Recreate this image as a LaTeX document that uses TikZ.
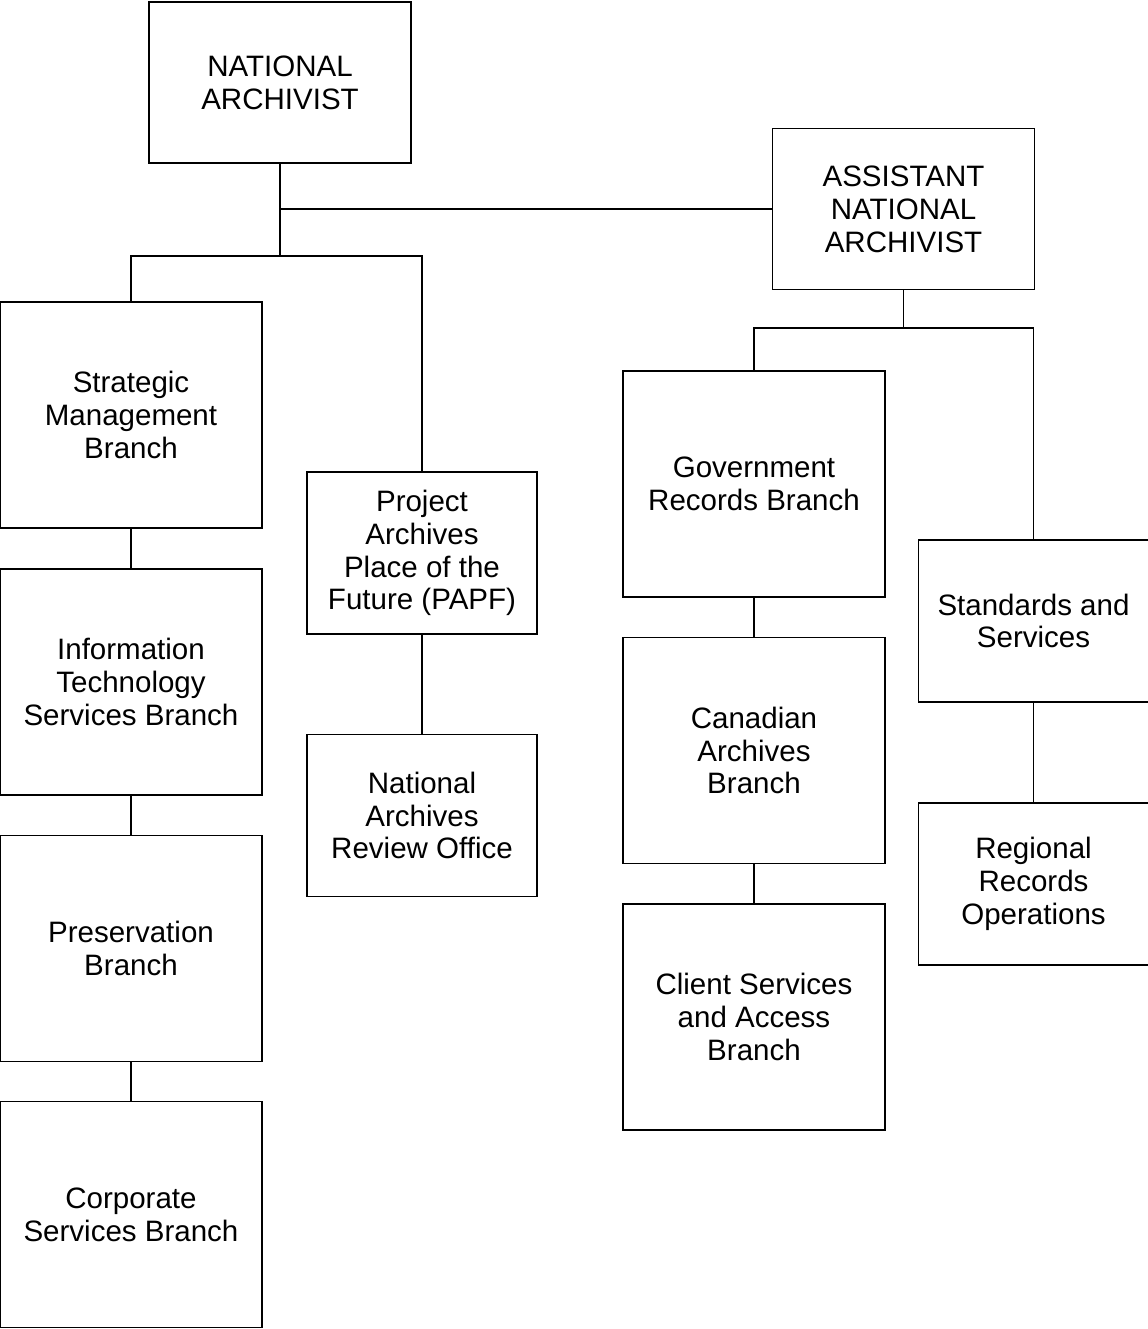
\documentclass[tikz,border=0pt]{standalone}
\usepackage{fontspec}
\setmainfont{Liberation Sans}
\begin{document}
\begin{tikzpicture}
    [
      x = 0.02cm, y = -0.02cm,
      unit/.style = {draw, line width = 1pt, align = center, inner sep = 0pt,
                     font = \fontsize{16.8}{18.7}\selectfont},
      head/.style = {unit, minimum width = 5.24cm, minimum height = 3.22cm},
      big/.style = {unit, minimum width = 5.24cm, minimum height = 4.52cm},
      small/.style = {unit, minimum width = 4.6cm, minimum height = 3.24cm},
      link/.style = {line width = 1pt},
    ]

    \useasboundingbox (0,0) rectangle (1148,1329);

    \node[head] (na) at (280,82.5) {NATIONAL\\ARCHIVIST};
    \node[head] (ana) at (903.5,209) {ASSISTANT\\NATIONAL\\ARCHIVIST};

    \node[big] (smb) at (131,415) {Strategic\\Management\\Branch};
    \node[big] (its) at (131,682) {Information\\Technology\\Services Branch};
    \node[big] (pb) at (131,948.5) {Preservation\\Branch};
    \node[big] (csb) at (131,1214.5) {Corporate\\Services Branch};

    \node[small] (papf) at (422,553) {Project\\Archives\\Place of the\\Future (PAPF)};
    \node[small] (naro) at (422,815.5) {National\\Archives\\Review Office};

    \node[big] (grb) at (754,484) {Government\\Records Branch};
    \node[big] (cab) at (754,750.5) {Canadian\\Archives\\Branch};
    \node[big] (csa) at (754,1017) {Client Services\\and Access\\Branch};

    \node[small] (ss) at (1033.5,621) {Standards and\\Services};
    \node[small] (rro) at (1033.5,884) {Regional\\Records\\Operations};

    \coordinate (split) at (280,256);
    \coordinate (asplit) at (903.5,328);

    \draw[link] (na) -- (split);
    \draw[link] (ana.west) -- (ana.west -| na.south);
    \draw[link] (smb.north) |- (split) -| (papf.north);
    \draw[link] (ana) -- (asplit);
    \draw[link] (grb.north) |- (asplit) -| (ss.north);

    \draw[link] (smb) -- (its);
    \draw[link] (its) -- (pb);
    \draw[link] (pb) -- (csb);
    \draw[link] (papf) -- (naro);
    \draw[link] (grb) -- (cab);
    \draw[link] (cab) -- (csa);
    \draw[link] (ss) -- (rro);

  \end{tikzpicture}
\end{document}
